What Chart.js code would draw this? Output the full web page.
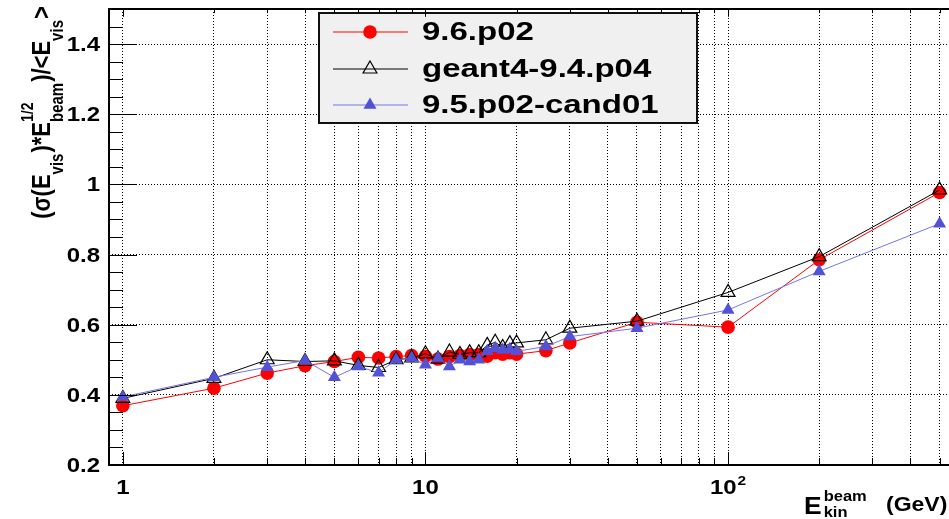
<!DOCTYPE html>
<html>
<head>
<meta charset="utf-8">
<title>Energy resolution vs beam energy</title>
<script src="https://cdn.jsdelivr.net/npm/chart.js@4/dist/chart.umd.min.js"></script>
<style>
  html, body { margin: 0; padding: 0; background: #fff; overflow: hidden; }
  canvas { display: block; }
</style>
</head>
<body>
<canvas id="c" width="949" height="519"></canvas>
<script>
// Beam kinetic energies (GeV)
const energies = [1, 2, 3, 4, 5, 6, 7, 8, 9, 10, 11, 12, 13, 14, 15, 16, 17, 18, 19, 20, 25, 30, 50, 100, 200, 500];

// Scaled resolution (sigma(Evis) * sqrt(Ebeam) / <Evis>) per release
const res96p02 = [0.369, 0.419, 0.462, 0.483, 0.495, 0.507, 0.505, 0.509, 0.512, 0.510, 0.502, 0.509, 0.512, 0.515, 0.515, 0.510, 0.520, 0.516, 0.520, 0.516, 0.526, 0.548, 0.607, 0.593, 0.785, 0.977];
const resG4v94p04 = [0.390, 0.447, 0.500, 0.495, 0.497, 0.484, 0.478, 0.500, 0.505, 0.517, 0.502, 0.522, 0.515, 0.520, 0.520, 0.541, 0.550, 0.535, 0.546, 0.548, 0.557, 0.590, 0.610, 0.692, 0.794, 0.984];
const res95p02cand01 = [0.394, 0.450, 0.479, 0.498, 0.450, 0.481, 0.463, 0.500, 0.505, 0.486, 0.505, 0.481, 0.500, 0.495, 0.500, 0.524, 0.533, 0.528, 0.530, 0.524, 0.538, 0.566, 0.590, 0.642, 0.752, 0.888];

const seriesNames = ['9.6.p02', 'geant4-9.4.p04', '9.5.p02-cand01'];

// Axis ticks
const xGridValues = [1, 2, 3, 4, 5, 6, 7, 8, 9, 10, 20, 30, 40, 50, 60, 70, 80, 90, 100, 200, 300, 400, 500];
const xMajorValues = [1, 10, 100];
const xTickLabels = ['1', '10', '10'];
const xTickExponents = ['', '', '2'];
const yTickValues = [0.2, 0.4, 0.6, 0.8, 1.0, 1.2, 1.4];
const yTickLabels = ['0.2', '0.4', '0.6', '0.8', '1', '1.2', '1.4'];
const yMinorValues = [0.25, 0.3, 0.35, 0.45, 0.5, 0.55, 0.65, 0.7, 0.75, 0.85, 0.9, 0.95, 1.05, 1.1, 1.15, 1.25, 1.3, 1.35, 1.45, 1.5];

const FONT = '"Liberation Sans", Arial, Helvetica, sans-serif';

function toPoints(arr) {
  return energies.map((e, i) => ({ x: e, y: arr[i] }));
}

// Bold text with a horizontal stretch factor
function txt(ctx, s, x, y, size, sx, align) {
  ctx.save();
  ctx.font = 'bold ' + size + 'px ' + FONT;
  ctx.textBaseline = 'alphabetic';
  ctx.textAlign = 'left';
  const w = ctx.measureText(s).width * sx;
  const x0 = align === 'right' ? x - w : (align === 'center' ? x - w / 2 : x);
  ctx.translate(x0, y);
  ctx.scale(sx, 1);
  ctx.fillStyle = '#000';
  ctx.fillText(s, 0, 0);
  ctx.restore();
  return w;
}

function textWidth(ctx, s, size) {
  ctx.save();
  ctx.font = 'bold ' + size + 'px ' + FONT;
  const w = ctx.measureText(s).width;
  ctx.restore();
  return w;
}

const styles = [
  { line: '#ff0000', point: '#ff0000', border: '#ff0000', style: 'circle', r: 6.8, bw: 0, order: 2 },
  { line: '#000000', point: 'rgba(0,0,0,0)', border: '#000000', style: 'triangle', r: 8, bw: 1.2, order: 1 },
  { line: '#7474ee', point: '#5252d6', border: '#5252d6', style: 'triangle', r: 7.5, bw: 0, order: 0 }
];
const seriesValues = [res96p02, resG4v94p04, res95p02cand01];

const datasets = seriesValues.map((vals, i) => ({
  label: seriesNames[i],
  data: toPoints(vals),
  borderColor: styles[i].line,
  borderWidth: 1,
  backgroundColor: styles[i].point,
  pointBackgroundColor: styles[i].point,
  pointBorderColor: styles[i].border,
  pointBorderWidth: styles[i].bw,
  pointStyle: styles[i].style,
  pointRadius: styles[i].r,
  pointHoverRadius: styles[i].r,
  tension: 0,
  fill: false,
  order: styles[i].order
}));

const legendPlugin = {
  id: 'boxLegend',
  afterDatasetsDraw(chart) {
    const ctx = chart.ctx;
    const bx = 319, by = 13, bw = 378, bh = 110;
    ctx.save();
    ctx.fillStyle = '#f0f0f0';
    ctx.fillRect(bx, by, bw, bh);
    ctx.lineWidth = 2;
    ctx.strokeStyle = '#111';
    ctx.strokeRect(bx, by, bw, bh);
    const rows = [32, 69, 105];
    chart.data.datasets.forEach((ds, i) => {
      const y = rows[i];
      ctx.strokeStyle = ds.borderColor;
      ctx.lineWidth = 1.2;
      ctx.beginPath();
      ctx.moveTo(333, y);
      ctx.lineTo(408, y);
      ctx.stroke();
      ctx.fillStyle = ds.pointBackgroundColor;
      ctx.strokeStyle = ds.pointBorderColor;
      ctx.lineWidth = ds.pointBorderWidth;
      Chart.helpers.drawPoint(ctx, {
        pointStyle: ds.pointStyle, radius: ds.pointRadius, rotation: 0, borderWidth: ds.pointBorderWidth
      }, 370, y);
      txt(ctx, ds.label, 422, y - 1.5 + 9, 25, 1.32, 'left');
    });
    ctx.restore();
  }
};

const framePlugin = {
  id: 'rootFrame',
  afterDraw(chart) {
    const ctx = chart.ctx;
    const a = chart.chartArea;
    const xs = chart.scales.x, ys = chart.scales.y;
    ctx.save();
    ctx.strokeStyle = '#000';
    ctx.lineWidth = 1;
    // inward tick marks on the x axis (bottom and top)
    xGridValues.forEach(v => {
      const px = Math.round(xs.getPixelForValue(v)) + 0.5;
      const len = xMajorValues.includes(v) ? 13 : 7;
      ctx.beginPath();
      ctx.moveTo(px, a.bottom); ctx.lineTo(px, a.bottom - len);
      ctx.moveTo(px, a.top); ctx.lineTo(px, a.top + len * 0.6);
      ctx.stroke();
    });
    // inward tick marks on the y axis
    yTickValues.forEach(v => {
      const py = Math.round(ys.getPixelForValue(v)) + 0.5;
      ctx.beginPath(); ctx.moveTo(a.left, py); ctx.lineTo(a.left + 28, py); ctx.stroke();
    });
    yMinorValues.forEach(v => {
      const py = Math.round(ys.getPixelForValue(v)) + 0.5;
      ctx.beginPath(); ctx.moveTo(a.left, py); ctx.lineTo(a.left + 14, py); ctx.stroke();
    });
    // frame
    ctx.lineWidth = 2;
    ctx.beginPath();
    ctx.moveTo(a.right + 2, a.top);
    ctx.lineTo(a.left, a.top);
    ctx.lineTo(a.left, a.bottom);
    ctx.lineTo(a.right + 2, a.bottom);
    ctx.stroke();

    // y tick labels
    yTickValues.forEach((v, i) => {
      const py = ys.getPixelForValue(v);
      txt(ctx, yTickLabels[i], 100, py + 7, 20, 1.2, 'right');
    });
    // x tick labels
    xMajorValues.forEach((v, i) => {
      const px = xs.getPixelForValue(v);
      const base = xTickLabels[i], ex = xTickExponents[i];
      const w1 = textWidth(ctx, base, 20) * 1.2;
      const w2 = ex ? textWidth(ctx, ex, 13) * 1.2 + 1 : 0;
      const x0 = px - (w1 + w2) / 2;
      txt(ctx, base, x0, 494, 20, 1.2, 'left');
      if (ex) txt(ctx, ex, x0 + w1 + 1, 485, 13, 1.2, 'left');
    });

    // x axis title: E_kin^beam (GeV)
    const wE = txt(ctx, 'E', 804, 514, 23, 1.15, 'left');
    txt(ctx, 'beam', 804 + wE + 2, 501, 15, 1.1, 'left');
    txt(ctx, 'kin', 804 + wE + 2, 517, 15, 1.1, 'left');
    txt(ctx, '(GeV)', 886, 511, 20, 1.15, 'left');

    // y axis title: (sigma(E_vis)*E_beam^1/2)/<E_vis>
    const mainSize = 22, subSize = 15, supSize = 14;
    const segs = [
      { t: '(\u03c3(E', k: 'm' },
      { t: 'vis', k: 'sub' },
      { t: ')*E', k: 'm' },
      { sup: '1/2', sub: 'beam' },
      { t: ')/<E', k: 'm' },
      { t: 'vis', k: 'sub' },
      { t: '>', k: 'm' }
    ];
    const segWidth = s => {
      if (s.sup) return Math.max(textWidth(ctx, s.sup, supSize), textWidth(ctx, s.sub, subSize)) + 1;
      return textWidth(ctx, s.t, s.k === 'm' ? mainSize : subSize) + (s.k === 'm' ? 0 : 1);
    };
    const total = segs.reduce((acc, s) => acc + segWidth(s), 0);
    ctx.save();
    ctx.translate(50, 112.5);
    ctx.rotate(-Math.PI / 2);
    ctx.scale(1, 1.18);
    let u = -total / 2;
    const vSub = 11, vSup = -14.5;
    segs.forEach(s => {
      const w = segWidth(s);
      if (s.sup) {
        txt(ctx, s.sup, u, vSup, supSize, 1, 'left');
        txt(ctx, s.sub, u, vSub, subSize, 1, 'left');
      } else if (s.k === 'm') {
        txt(ctx, s.t, u, 0, mainSize, 1, 'left');
      } else {
        txt(ctx, s.t, u, vSub, subSize, 1, 'left');
      }
      u += w;
    });
    ctx.restore();
    ctx.restore();
  }
};

new Chart(document.getElementById('c'), {
  type: 'line',
  data: { datasets },
  options: {
    responsive: false,
    devicePixelRatio: 1,
    animation: false,
    events: [],
    layout: { autoPadding: false, padding: { top: 9, right: 1, left: 0, bottom: 0 } },
    plugins: { legend: { display: false }, tooltip: { enabled: false } },
    scales: {
      x: {
        type: 'logarithmic',
        min: 0.9,
        max: 533,
        afterBuildTicks: axis => { axis.ticks = xGridValues.map(v => ({ value: v })); },
        afterFit: axis => { axis.height = 54; },
        ticks: { display: false, autoSkip: false },
        grid: { color: '#000', lineWidth: 1, drawTicks: false },
        border: { display: false, dash: [1, 2] }
      },
      y: {
        type: 'linear',
        min: 0.2,
        max: 1.5,
        afterBuildTicks: axis => { axis.ticks = yTickValues.map(v => ({ value: v })); },
        afterFit: axis => { axis.width = 109; },
        ticks: { display: false },
        grid: { color: '#000', lineWidth: 1, drawTicks: false },
        border: { display: false, dash: [1, 2] }
      }
    }
  },
  plugins: [legendPlugin, framePlugin]
});
</script>
</body>
</html>
